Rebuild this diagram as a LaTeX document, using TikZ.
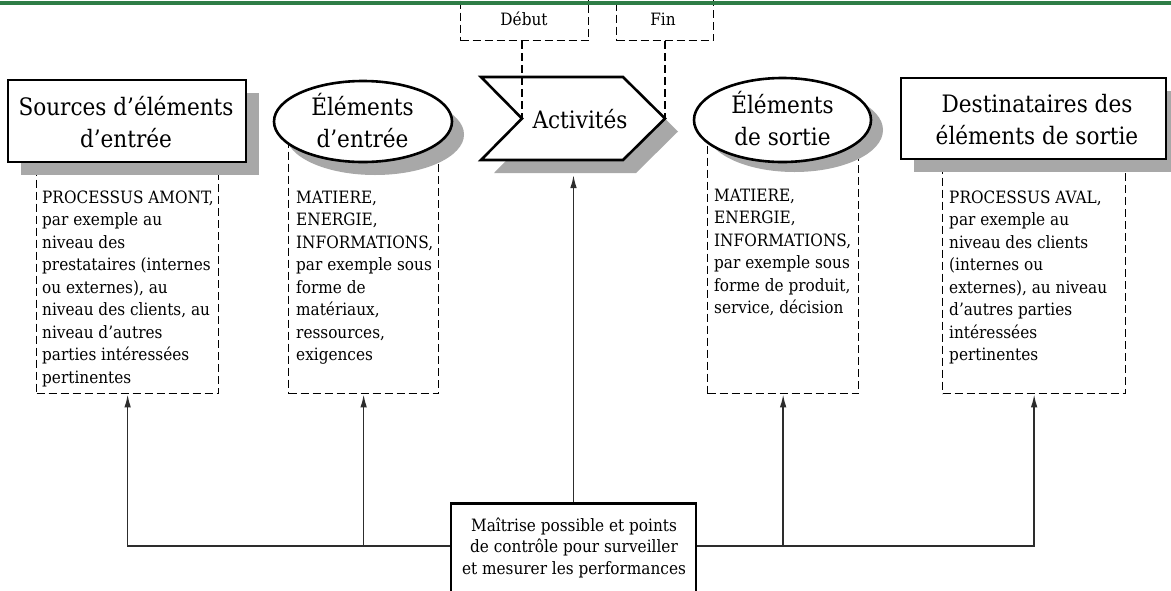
\documentclass[tikz,border=0pt]{standalone}
\usepackage{fontspec}
\setmainfont[FakeStretch=0.9]{DejaVu Serif}
\usetikzlibrary{arrows.meta,shapes.geometric,shadows}
\definecolor{topgreen}{RGB}{46,125,70}
\definecolor{shadowgray}{RGB}{168,168,168}
\definecolor{linegray}{RGB}{45,45,45}
\newcommand{\titlefont}{\fontsize{24}{32}\selectfont}
\newcommand{\bodyfont}{\fontsize{17}{22.5}\selectfont}
\newcommand{\ctlfont}{\fontsize{17}{21.5}\selectfont}
\begin{document}
\begin{tikzpicture}[x=1pt,y=-1pt,
  mainbox/.style={draw=black, line width=2.8pt, fill=white, rectangle, inner sep=0pt},
  mainell/.style={draw=black, line width=2.6pt, fill=white, ellipse, inner sep=0pt},
  shadowed/.style 2 args={drop shadow={shadow xshift=#1pt, shadow yshift=-#2pt, fill=shadowgray, opacity=1}},
  dashbox/.style={draw=black, line width=1.3pt, dash pattern=on 8pt off 4pt, rectangle, inner sep=0pt, anchor=north west},
  dashline/.style={draw=black, line width=1.3pt, dash pattern=on 8pt off 4pt},
  bodytext/.style={anchor=base west, inner sep=0pt, font=\bodyfont},
  titletext/.style={anchor=base, inner sep=0pt, font=\titlefont},
  conn/.style={draw=linegray, line width=1.6pt, -{Latex[length=13pt,width=6.5pt]}}
]
\useasboundingbox (0,0) rectangle (1171,590);
\clip (0,0) rectangle (1171,590);
\fill[white] (0,0) rectangle (1171,590);

% Debut / Fin boxes
\node[dashbox, minimum width=128pt, minimum height=42pt] (deb) at (460,-2) {};
\node[anchor=base, inner sep=0pt, font=\bodyfont] (debt) at (524,25) {Début};
\node[dashbox, minimum width=97pt, minimum height=42pt] (fin) at (616,-2) {};
\node[anchor=base, inner sep=0pt, font=\bodyfont] (fint) at (663,25) {Fin};

% dashed text boxes (tops hidden under shapes)
\node[dashbox, minimum width=182pt, minimum height=243pt] (d1) at (36,150) {};
\node[dashbox, minimum width=150pt, minimum height=253pt] (d2) at (288,140) {};
\node[dashbox, minimum width=151pt, minimum height=255pt] (d3) at (707,138) {};
\node[dashbox, minimum width=183pt, minimum height=243pt] (d4) at (942,150) {};

\node[bodytext] (t1) at (42,203) {\parbox[t]{180pt}{\raggedright PROCESSUS AMONT,\\par exemple au\\niveau des\\prestataires (internes\\ou externes), au\\niveau des clients, au\\niveau d’autres\\parties intéressées\\pertinentes}};
\node[bodytext] (t2) at (296,203) {\parbox[t]{145pt}{\raggedright MATIERE,\\ENERGIE,\\INFORMATIONS,\\par exemple sous\\forme de\\matériaux,\\ressources,\\exigences}};
\node[bodytext] (t3) at (714,201) {\parbox[t]{145pt}{\raggedright MATIERE,\\ENERGIE,\\INFORMATIONS,\\par exemple sous\\forme de produit,\\service, décision}};
\node[bodytext] (t4) at (949,203) {\parbox[t]{178pt}{\raggedright PROCESSUS AVAL,\\par exemple au\\niveau des clients\\(internes ou\\externes), au niveau\\d’autres parties\\intéressées\\pertinentes}};

% main shapes
\node[mainbox, minimum width=238pt, minimum height=82pt, shadowed={13}{13}] (src) at (127,121) {};
\node[titletext] (srct) at (126,115) {\parbox[t]{260pt}{\centering Sources d’éléments\\d’entrée}};

\node[mainell, minimum width=178pt, minimum height=81pt, shadowed={12}{13}] (ein) at (363,121.5) {};
\node[titletext] (eint) at (362.5,115) {\parbox[t]{200pt}{\centering Éléments\\d’entrée}};

\coordinate (notch) at (522,118.5);
\coordinate (tip) at (665,118.5);
\fill[shadowgray, shift={(13,13)}] (481,77) -- (623,77) -- (665,118.5) -- (623,160) -- (481,160) -- (522,118.5) -- cycle;
\draw[line width=2.6pt, fill=white, line join=miter] (481,77) -- (623,77) -- (tip) -- (623,160) -- (481,160) -- (notch) -- cycle;
\node[titletext] (act) at (580,128) {Activités};

% dashed connectors to Activites
\draw[dashline] (notch |- deb.south) -- (notch);
\draw[dashline] (tip |- fin.south) -- (tip);

\node[mainell, minimum width=177pt, minimum height=84pt, shadowed={12}{10}] (eout) at (782.5,120) {};
\node[titletext] (eoutt) at (782.5,113.5) {\parbox[t]{200pt}{\centering Éléments\\de sortie}};

\node[mainbox, minimum width=265pt, minimum height=81pt, shadowed={13}{13}] (dst) at (1033.5,118.5) {};
\node[titletext] (dstt) at (1037,112) {\parbox[t]{280pt}{\centering Destinataires des\\éléments de sortie}};

% control box
\node[mainbox, line width=2.6pt, minimum width=245pt, minimum height=130pt, anchor=north] (ctl) at (573.5,502) {};
\node[anchor=base, inner sep=0pt, font=\ctlfont] (ctlt) at (574,531) {\parbox[t]{240pt}{\centering Maîtrise possible et points\\de contrôle pour surveiller\\et mesurer les performances}};

% connectors
\coordinate (hy) at (0,546);
\coordinate (actb) at (573.5,175);
\draw[conn] (ctl.north) -- (actb);
\draw[conn] (ctl.west |- hy) -| (d1.south);
\draw[conn] (d2.south |- hy) -- (d2.south);
\draw[conn] (ctl.east |- hy) -| (d4.south);
\draw[conn] (d3.south |- hy) -- (d3.south);

% top green rule
\draw[topgreen, line width=3.5pt] (0,3) -- (1171,3);
\end{tikzpicture}
\end{document}
